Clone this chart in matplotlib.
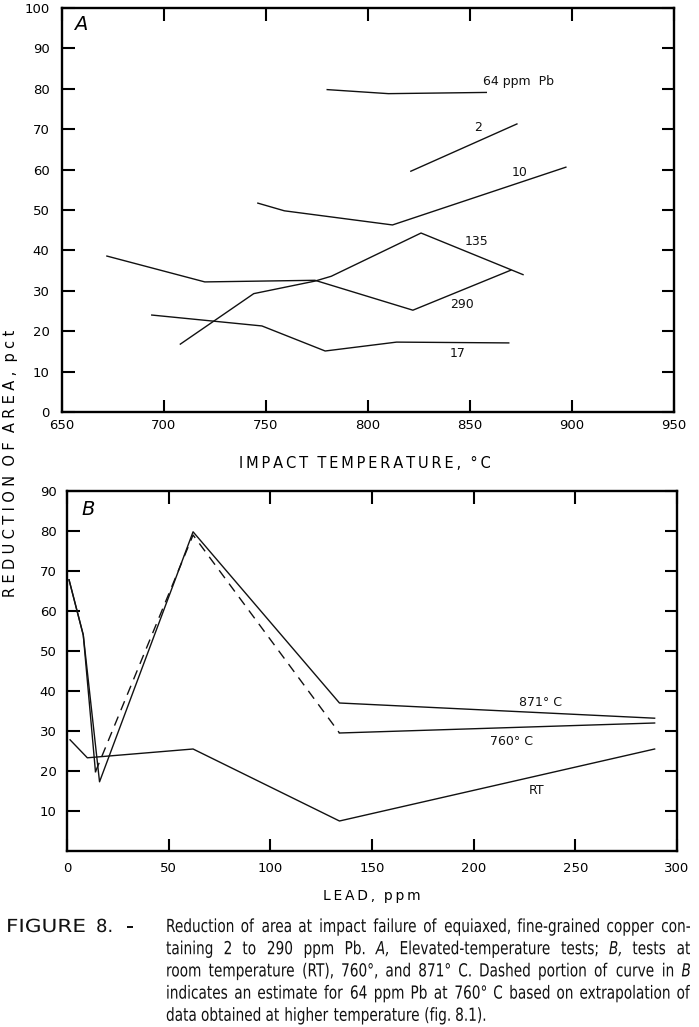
import matplotlib
matplotlib.use("Agg")
import matplotlib.pyplot as plt
from matplotlib.textpath import TextPath
from matplotlib.patches import PathPatch
from matplotlib.font_manager import FontProperties
from matplotlib.transforms import Affine2D

# Panel A: reduction of area vs impact temperature, one line per Pb level
temp_2 = [821, 873]
ra_2 = [59.6, 71.3]
temp_10 = [746, 759, 812, 897]
ra_10 = [51.7, 49.8, 46.3, 60.6]
temp_17 = [694, 748, 779, 814, 869]
ra_17 = [24.0, 21.3, 15.1, 17.3, 17.1]
temp_64 = [780, 810, 858]
ra_64 = [79.8, 78.8, 79.1]
temp_135 = [708, 744, 774, 782, 826, 876]
ra_135 = [16.8, 29.3, 32.4, 33.6, 44.3, 34.0]
temp_290 = [672, 720, 774, 822, 870]
ra_290 = [38.6, 32.2, 32.6, 25.2, 35.1]

# Panel B: reduction of area vs lead content
lead_871 = [1, 8, 16, 62, 134, 289]
ra_871 = [67.8, 54.0, 17.3, 79.8, 37.0, 33.2]
lead_760 = [1, 8, 14, 62, 134, 289]
ra_760 = [67.8, 54.0, 19.8, 79.0, 29.5, 32.0]
lead_rt = [1.5, 10, 62, 134, 289]
ra_rt = [27.8, 23.3, 25.5, 7.5, 25.5]

W, H = 699, 1027
fig = plt.figure(figsize=(W / 100, H / 100), dpi=100)
fig.patch.set_facecolor("white")

def px_rect(left, top, right, bottom):
    return [left / W, 1 - bottom / H, (right - left) / W, (bottom - top) / H]

def style_axes(ax, lab_pad_x, lab_pad_y):
    for s in ax.spines.values():
        s.set_linewidth(1.7)
    ax.tick_params(which="both", direction="in", top=True, right=True,
                   length=9, width=1.5, labelsize=9.5)
    ax.tick_params(axis="x", pad=lab_pad_x)
    ax.tick_params(axis="y", pad=lab_pad_y)

lw = 1.0
ink = "#111111"

# ---- A ----
axA = fig.add_axes(px_rect(62, 8, 674, 412))
axA.plot(temp_64, ra_64, color=ink, lw=lw)
axA.plot(temp_2, ra_2, color=ink, lw=lw)
axA.plot(temp_10, ra_10, color=ink, lw=lw)
axA.plot(temp_135, ra_135, color=ink, lw=lw)
axA.plot(temp_290, ra_290, color=ink, lw=lw)
axA.plot(temp_17, ra_17, color=ink, lw=lw)
axA.set_xlim(650, 950)
axA.set_ylim(0, 100)
axA.set_xticks(range(650, 951, 50))
axA.set_yticks(range(0, 101, 10))
style_axes(axA, 5, 9)
lab_kw = dict(fontsize=9, ha="center", va="center", color=ink)
axA.text(874, 81.7, "64 ppm  Pb", **lab_kw)
axA.text(854, 70.3, "2", **lab_kw)
axA.text(874.5, 59.4, "10", **lab_kw)
axA.text(853.4, 42.3, "135", **lab_kw)
axA.text(846, 26.5, "290", **lab_kw)
axA.text(844, 14.6, "17", **lab_kw)
axA.text(659, 95.8, "A", fontsize=14, style="italic", ha="center", va="center")

# ---- B ----
axB = fig.add_axes(px_rect(67, 491, 677, 851))
axB.plot(lead_871, ra_871, color=ink, lw=lw)
axB.plot(lead_760[:3], ra_760[:3], color=ink, lw=lw)
axB.plot(lead_760[2:5], ra_760[2:5], color=ink, lw=lw, dashes=(7, 5))
axB.plot(lead_760[4:], ra_760[4:], color=ink, lw=lw)
axB.plot(lead_rt, ra_rt, color=ink, lw=lw)
axB.set_xlim(0, 300)
axB.set_ylim(0, 90)
axB.set_xticks(range(0, 301, 50))
axB.set_yticks(range(10, 91, 10))
style_axes(axB, 8, 7.5)
axB.text(233, 37, "871° C", **lab_kw)
axB.text(218.6, 27.3, "760° C", **lab_kw)
axB.text(231, 15, "RT", **lab_kw)
axB.text(10.3, 85.3, "B", fontsize=14, style="italic", ha="center", va="center")

# ---- shared labels ----
def spaced(s, sep="\u2009"):
    return "  ".join(sep.join(w) for w in s.split(" "))

fig.text(11 / W, 1 - 463 / H, spaced("REDUCTION OF AREA, pct", "\u2009\u200a"),
         rotation=90, fontsize=10.5, ha="center", va="center")
fig.text(365 / W, 1 - 463 / H, spaced("IMPACT TEMPERATURE, °C"),
         fontsize=10.5, ha="center", va="center")
fig.text(372 / W, 1 - 896 / H, spaced("LEAD, ppm"),
         fontsize=10, ha="center", va="center")

# ---- caption: condensed type drawn as text paths, justified word by word ----
cap_em = 18.0
cap_sx = 0.76
fp_norm = FontProperties(family="DejaVu Sans")
fp_ital = FontProperties(family="DejaVu Sans", style="italic")

def word_path(txt, italic=False):
    return TextPath((0, 0), txt, size=cap_em, prop=fp_ital if italic else fp_norm)

def put_path(path, x, y, sx=cap_sx):
    tr = Affine2D().scale(sx, 1).translate(x, H - y)
    fig.add_artist(PathPatch(path, transform=tr, fc=ink, ec="none", lw=0))

def caption_line(y, words, x0, x1, last=False):
    items = []
    for w in words:
        italic = w.startswith("_")
        p = word_path(w[1:] if italic else w, italic)
        items.append((p, p.get_extents().x1 * cap_sx))
    total = sum(wd for _, wd in items)
    gap = cap_em * 0.3 if last else (x1 - x0 - total) / (len(items) - 1)
    x = x0
    for p, wd in items:
        put_path(p, x, y)
        x += wd + gap

put_path(word_path("FIGURE"), 6, 932, sx=1.2)
put_path(word_path("8."), 96, 932, sx=1.0)
put_path(word_path("\u2013"), 126, 932, sx=0.9)
lines = [
    "Reduction of area at impact failure of equiaxed, fine-grained copper con-",
    "taining 2 to 290 ppm Pb. _A, Elevated-temperature tests; _B, tests at",
    "room temperature (RT), 760°, and 871° C. Dashed portion of curve in _B",
    "indicates an estimate for 64 ppm Pb at 760° C based on extrapolation of",
    "data obtained at higher temperature (fig. 8.1).",
]
for i, ln in enumerate(lines):
    caption_line(932 + i * 22.2, ln.split(" "), 166, 690, last=(i == len(lines) - 1))

fig.savefig("out.png", dpi=100, facecolor="white")
